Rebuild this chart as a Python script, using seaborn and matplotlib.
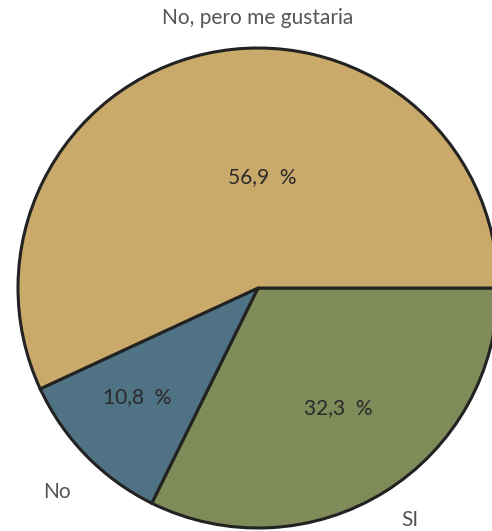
import matplotlib
matplotlib.use("Agg")
import matplotlib.pyplot as plt
import seaborn as sns

sns.set_theme(style="white")
plt.rcParams['font.family'] = ['Lato', 'DejaVu Sans']

categories = ["SI", "No", "No, pero me gustaria"]
values = [32.3, 10.8, 56.9]
pct_labels = ["32,3  %", "10,8  %", "56,9  %"]
colors = ["#7f8b59", "#4f7284", "#c9aa6a"]

fig = plt.figure(figsize=(4.92, 5.31), dpi=100)
ax = fig.add_axes([0, 0, 1, 1])
R = 240
wedges, texts = ax.pie(values, labels=categories, colors=colors, startangle=0,
                       counterclock=False, radius=R, labeldistance=1.16,
                       wedgeprops=dict(edgecolor="#222222", linewidth=2.2),
                       textprops=dict(fontsize=15, color="#555555"))
# label placement tweaks
label_pos = {"SI": (152, -232), "No": (-201, -204), "No, pero me gustaria": (0, 270)}
for t, c in zip(texts, categories):
    t.set_position(label_pos[c])
    t.set_ha("center"); t.set_va("center")
pct_pos = [(80, -120), (-121, -109), (4, 111)]
for p, lab in zip(pct_pos, pct_labels):
    ax.text(p[0], p[1], lab, ha="center", va="center", fontsize=15,
            color="#2a2a2a")

ax.set_xlim(-258, 492 - 258)
ax.set_ylim(-(531 - 288), 288)
ax.set_aspect("equal")
ax.axis("off")
fig.savefig("out.png", dpi=100, facecolor="white")
